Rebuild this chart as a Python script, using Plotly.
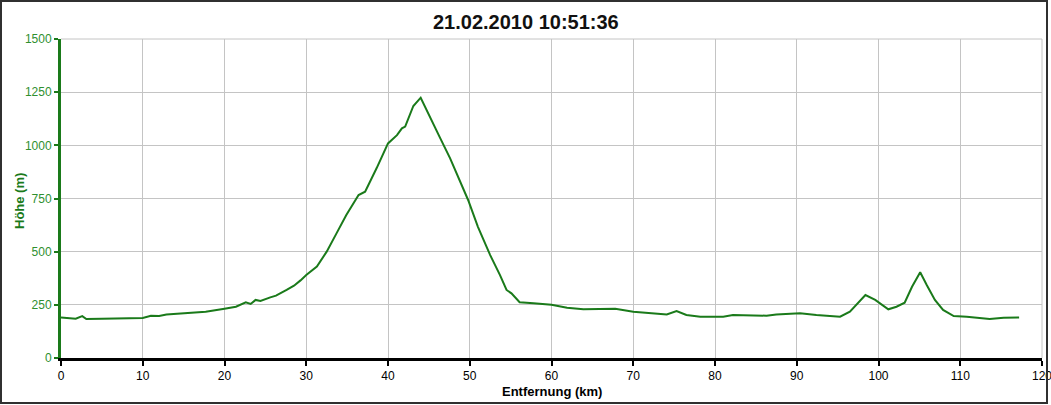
import plotly.graph_objects as go

title_text = "21.02.2010 10:51:36"
x_title = "Entfernung (km)"
y_title = "Höhe (m)"

distance_km = [0, 1.0, 1.8, 2.6, 3.1, 5.0, 6.7, 8.5, 10, 11, 12, 12.9, 15.3, 17.7, 20, 21.4,
               22.6, 23.2, 23.8, 24.4, 25.6, 26.3, 27.6, 28.5, 29.3, 30, 31.3, 32.5, 33.7,
               34.9, 36.4, 37.2, 38.6, 40.0, 41.1, 41.7, 42.1, 43.1, 44.0, 45.1, 46.4, 47.6,
               48.8, 49.8, 51.0, 52.5, 53.7, 54.5, 55.1, 56.1, 57.8, 60, 61.9, 63.9, 65.9,
               67.8, 70, 72, 74.1, 75.3, 76.5, 78.2, 81, 82.2, 84.7, 86.3, 87.5, 90, 90.4,
               92.4, 95.3, 96.5, 98.4, 99.6, 101.2, 102.2, 103.2, 104.1, 105.1, 105.9, 106.9,
               107.9, 109.2, 110.8, 113.6, 115.3, 117.2]
elevation_m = [191, 188, 185, 197, 183, 184, 185, 186, 188, 199, 198, 205, 210, 218, 232, 241,
               262, 254, 273, 268, 285, 293, 320, 340, 365, 390, 430, 500, 586,
               672, 766, 782, 892, 1009, 1048, 1080, 1088, 1185, 1224, 1134, 1033, 939,
               829, 743, 617, 484, 390, 320, 304, 262, 257, 250, 236, 229, 230,
               232, 218, 210, 205, 221, 202, 194, 194, 202, 201, 199, 205, 207, 210,
               202, 194, 218, 296, 273, 229, 241, 260, 335, 403, 343, 273,
               226, 197, 194, 183, 189, 191]

x_ticks = list(range(0, 121, 10))
y_ticks = [0, 250, 500, 750, 1000, 1250, 1500]

GREEN = "#1a7a1a"
LABEL_GREEN = "#2f8f2f"

fig = go.Figure()
fig.add_trace(go.Scatter(x=distance_km, y=elevation_m, mode="lines",
                         line=dict(color=GREEN, width=2), showlegend=False))

W, H = 1051, 405
L, R, T, B = 61, 9, 39, 47
pw, ph = W - L - R, H - T - B

def px_x(p):
    return (p - L) / pw

def px_y(p):
    return (H - B - p) / ph

fig.update_layout(
    width=W, height=H,
    margin=dict(l=L, r=R, t=T, b=B, autoexpand=False),
    paper_bgcolor="white", plot_bgcolor="white",
    font=dict(family="Liberation Sans, Arial, sans-serif", size=12, color="black"),
    xaxis=dict(range=[0, 120], tickvals=x_ticks, ticktext=[str(v) for v in x_ticks],
               showgrid=True, gridcolor="#c4c4c4", gridwidth=1, zeroline=False,
               showline=True, linecolor="black", linewidth=3,
               ticks="outside", ticklen=5, tickwidth=2, tickcolor="black",
               ticklabeloverflow="allow", automargin=False,
               tickfont=dict(size=12, color="black")),
    yaxis=dict(range=[0, 1500], tickvals=y_ticks, ticktext=[str(v) for v in y_ticks],
               showgrid=True, gridcolor="#c4c4c4", gridwidth=1, zeroline=False,
               showline=True, linecolor=GREEN, linewidth=3, automargin=False,
               ticks="outside", ticklen=4, tickwidth=2, tickcolor=GREEN,
               tickfont=dict(size=12, color=LABEL_GREEN)),
    shapes=[
        dict(type="line", xref="paper", yref="paper", x0=1, x1=1, y0=0, y1=1,
             line=dict(color="#c4c4c4", width=1)),
        dict(type="line", xref="paper", yref="paper", x0=0, x1=1, y0=1, y1=1,
             line=dict(color="#c4c4c4", width=1)),
        dict(type="rect", xref="paper", yref="paper",
             x0=px_x(1), x1=px_x(1047), y0=px_y(403), y1=px_y(1),
             line=dict(color="#303030", width=2), fillcolor="rgba(0,0,0,0)"),
    ],
    annotations=[
        dict(text=title_text, xref="paper", yref="paper", x=px_x(525.5), y=px_y(22),
             showarrow=False, xanchor="center", yanchor="middle",
             font=dict(size=20, color="#111111", family="Liberation Sans, Arial, sans-serif", weight="bold")),
        dict(text=x_title, xref="paper", yref="paper", x=0.5, y=px_y(391),
             showarrow=False, xanchor="center", yanchor="middle",
             font=dict(size=13, color="black", weight="bold")),
        dict(text=y_title, xref="paper", yref="paper", x=px_x(19), y=px_y(201),
             showarrow=False, xanchor="center", yanchor="middle", textangle=-90,
             font=dict(size=13, color=GREEN, weight="bold")),
    ],
)

fig.write_html("out.html", config={"displayModeBar": False},
               post_script="document.body.style.margin='0';document.body.style.padding='0';document.body.style.overflow='hidden';")
